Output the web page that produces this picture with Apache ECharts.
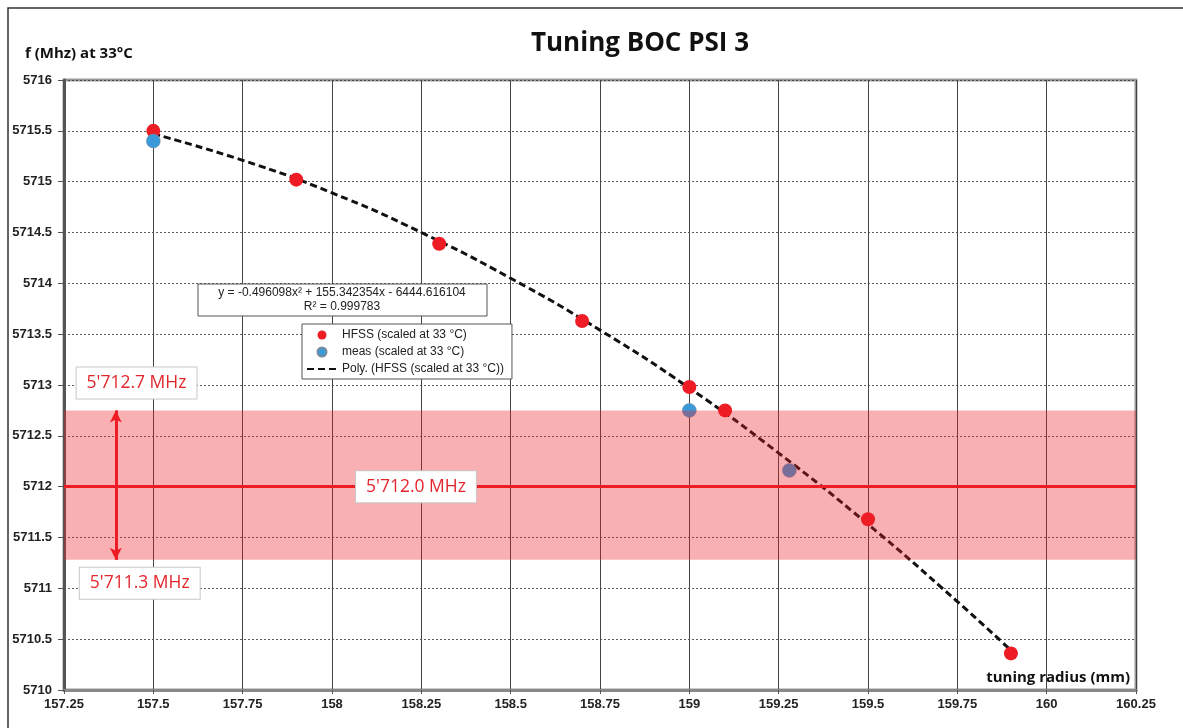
<!DOCTYPE html>
<html>
<head>
<meta charset="utf-8">
<script src="https://cdn.jsdelivr.net/npm/echarts@6/dist/echarts.min.js"></script>
<style>html,body{margin:0;padding:0;background:#fff;}#c{width:1183px;height:728px;}</style>
</head>
<body>
<div id="c"></div>
<script>
// Data
const hfssX = [157.5, 157.9, 158.3, 158.7, 159.0, 159.1, 159.5, 159.9];
const hfssY = [5715.5, 5715.02, 5714.39, 5713.63, 5712.98, 5712.75, 5711.68, 5710.36];
const measX = [157.5, 159.0, 159.28];
const measY = [5715.4, 5712.75, 5712.16];
const polyX = [157.5, 157.75, 158.0, 158.25, 158.5, 158.75, 159.0, 159.25, 159.5, 159.75, 159.9];
const polyY = [5715.47, 5715.21, 5714.89, 5714.50, 5714.05, 5713.54, 5712.97, 5712.33, 5711.63, 5710.87, 5710.39];
const bandLow = 5711.28, bandHigh = 5712.75, target = 5712.0;
const labels = { high: "5'712.7 MHz", mid: "5'712.0 MHz", low: "5'711.3 MHz" };
const legendNames = ['HFSS (scaled at 33 °C)', 'meas (scaled at 33 °C)', 'Poly. (HFSS (scaled at 33 °C))'];

const zip = (a, b) => a.map((v, i) => [v, b[i]]);
const chart = echarts.init(document.getElementById('c'));
const boxLabel = {
  show: true, color: '#e3262c', fontSize: 17.5, fontFamily: 'Open Sans',
  backgroundColor: '#fff', borderColor: '#c8c8c8', borderWidth: 1,
  padding: [7, 10, 6, 10]
};
chart.setOption({
  animation: false,
  backgroundColor: '#fff',
  grid: { left: 64, right: 47, top: 80, bottom: 38, show: true, borderColor: '#999', borderWidth: 3, containLabel: false },
  xAxis: {
    type: 'value', min: 157.25, max: 160.25, interval: 0.25,
    axisLine: { show: true, onZero: false, lineStyle: { color: '#888', width: 3 } },
    axisTick: { show: true, length: 4, lineStyle: { color: '#555' } },
    axisLabel: { color: '#222', fontWeight: 'bold', fontSize: 13, fontFamily: 'Liberation Sans', margin: 8, formatter: v => String(v) },
    splitLine: { show: true, lineStyle: { color: '#444', width: 1 } }
  },
  yAxis: {
    type: 'value', min: 5710, max: 5716, interval: 0.5,
    axisLine: { show: true, lineStyle: { color: '#555', width: 3 } },
    axisTick: { show: true, length: 6, lineStyle: { color: '#555' } },
    axisLabel: { color: '#222', fontWeight: 'bold', fontSize: 13, fontFamily: 'Liberation Sans', margin: 12, formatter: v => String(v) },
    splitLine: { show: true, lineStyle: { color: '#333', width: 0.8, type: [2, 2] } }
  },
  legend: {
    orient: 'vertical', left: 302, top: 324,
    padding: [5, 8, 4, 4], itemGap: 5, itemWidth: 30, itemHeight: 9,
    backgroundColor: '#fff', borderColor: '#555', borderWidth: 1,
    textStyle: { color: '#222', fontSize: 12, fontFamily: 'Liberation Sans' },
    data: [
      { name: legendNames[0], icon: 'circle' },
      { name: legendNames[1], icon: 'circle' },
      { name: legendNames[2], itemStyle: { opacity: 0 } }
    ]
  },
  graphic: [
    { type: 'rect', shape: { x: 8, y: 8, width: 1300, height: 900 }, style: { fill: 'none', stroke: '#333', lineWidth: 1.5 }, silent: true, z: -10 },
    { type: 'text', x: 640, y: 31, style: { text: 'Tuning BOC PSI 3', font: 'bold 26px "Open Sans"', fill: '#111', textAlign: 'center' } },
    { type: 'text', x: 25, y: 46, style: { text: 'f (Mhz) at 33°C', font: 'bold 15px "Open Sans"', fill: '#111' } },
    { type: 'text', x: 1130, y: 670, style: { text: 'tuning radius (mm)', font: 'bold 15px "Open Sans"', fill: '#111', textAlign: 'right' } },
    { type: 'rect', z: 50, shape: { x: 198, y: 284, width: 289, height: 32 }, style: { fill: '#fff', stroke: '#555', lineWidth: 1 } },
    { type: 'text', z: 51, x: 342, y: 287, style: { text: 'y = -0.496098x² + 155.342354x - 6444.616104', font: '12px "Liberation Sans"', fill: '#222', textAlign: 'center' } },
    { type: 'text', z: 51, x: 342, y: 301, style: { text: 'R² = 0.999783', font: '12px "Liberation Sans"', fill: '#222', textAlign: 'center' } }
  ],
  series: [
    {
      name: legendNames[2], type: 'line', data: zip(polyX, polyY), smooth: true, symbol: 'none', z: 3,
      lineStyle: { color: '#111', width: 3, type: [7, 4] }, itemStyle: { color: '#111' }
    },
    {
      name: legendNames[0], type: 'scatter', data: zip(hfssX, hfssY), symbolSize: 14, z: 4,
      itemStyle: { color: '#ee1c25', opacity: 1 }
    },
    {
      name: legendNames[1], type: 'scatter', data: zip(measX, measY), symbolSize: 14, z: 4,
      itemStyle: { color: '#3a9ad9', borderColor: '#7a8a9a', borderWidth: 0.5, opacity: 1 }
    },
    {
      name: 'band', type: 'line', data: [], z: 10,
      markArea: {
        silent: true, z: 10,
        itemStyle: { color: 'rgba(237,28,36,0.35)' },
        data: [[{ yAxis: bandLow }, { yAxis: bandHigh }]]
      },
      markLine: {
        silent: true, z: 11, symbol: ['none', 'none'], label: { show: false },
        lineStyle: { color: '#ee1c25', width: 3, type: 'solid' },
        data: [
          { yAxis: target },
          [{ coord: [157.395, bandLow], symbol: 'arrow', symbolSize: [9, 12] }, { coord: [157.395, bandHigh], symbol: 'arrow', symbolSize: [9, 12] }]
        ]
      },
      markPoint: {
        silent: true, z: 12, symbol: 'rect', symbolSize: 0,
        label: boxLabel,
        data: [
          { coord: [157.453, 5713.02], value: labels.high, label: Object.assign({}, boxLabel, { formatter: labels.high }) },
          { coord: [158.235, target], value: labels.mid, label: Object.assign({}, boxLabel, { formatter: labels.mid }) },
          { coord: [157.462, 5711.05], value: labels.low, label: Object.assign({}, boxLabel, { formatter: labels.low }) }
        ]
      }
    }
  ]
});
</script>
</body>
</html>
